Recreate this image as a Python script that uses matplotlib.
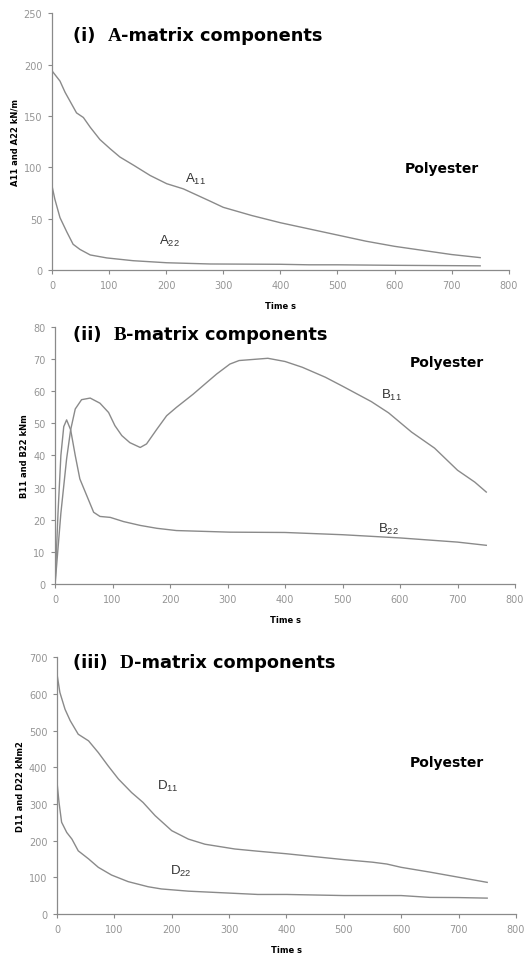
import matplotlib
matplotlib.use("Agg")
from matplotlib import pyplot as plt

# ---- data ----
t_a11 = [0, 14, 23, 43, 55, 67, 84, 102, 119, 143, 172, 201, 230, 277, 300, 350, 400, 450, 500, 550, 600, 650, 700, 750]
a11 = [194, 184, 173, 153, 148.5, 139, 127, 118, 110, 102, 92, 84, 79, 67, 61, 53, 46, 40, 34, 28, 23, 19, 15, 12]
t_a22 = [0, 5, 14, 26, 37, 49, 67, 96, 142, 201, 277, 400, 450, 500, 600, 750]
a22 = [82, 69, 51, 37, 25, 20, 14.6, 11.7, 9, 7, 5.8, 5.5, 5, 5, 4.5, 4]

t_b11 = [0, 10, 20, 27, 35, 46, 61, 78, 93, 104, 116, 130, 148, 159, 177, 194, 211, 240, 264, 281, 304, 320, 370,
         400, 430, 470, 500, 550, 580, 620, 660, 700, 730, 750]
b11 = [0, 22, 39, 48, 54.5, 57.4, 57.9, 56.3, 53.4, 49.3, 46.2, 44, 42.5, 43.6, 48.2, 52.4, 55, 59.1, 62.8, 65.4, 68.5,
       69.6, 70.3, 69.3, 67.5, 64.4, 61.6, 56.8, 53.3, 47.3, 42.3, 35.4, 31.7, 28.6]
t_b22 = [0, 5, 10, 15, 20, 27, 35, 43, 55, 67, 78, 96, 119, 148, 177, 211, 304, 400, 500, 600, 700, 750]
b22 = [0, 22, 40, 49, 51.1, 48, 40, 32.7, 27.5, 22.3, 21, 20.7, 19.4, 18.2, 17.3, 16.6, 16.1, 16, 15.3, 14.3, 13, 12]

t_d11 = [0, 5, 14, 23, 37, 55, 72, 89, 107, 130, 150, 171, 200, 229, 258, 310, 350, 400, 450, 500, 550, 575,
         600, 650, 700, 750]
d11 = [654, 604, 558, 527, 490, 472, 440, 404, 368, 331, 304, 268, 227, 204, 190, 177, 171, 164, 156, 148, 141, 136,
       127, 114, 100, 86]
t_d22 = [0, 3.5, 8, 17, 26, 37, 55, 72, 95, 124, 159, 182, 229, 310, 350, 400, 500, 600, 650, 700, 750]
d22 = [359, 304, 250, 222, 204, 172, 150, 127, 106, 88, 74, 68, 62, 56, 53, 53, 50, 50, 45, 44.5, 43]

x_ticks = [0, 100, 200, 300, 400, 500, 600, 700, 800]

panels = [
    dict(rect=[0.099, 0.716, 0.870, 0.269], ylim=250, yticks=[0, 50, 100, 150, 200, 250],
         ylabel="A11 and A22 kN/m", roman="(i)", letter="A",
         curves=[(t_a11, a11), (t_a22, a22)],
         labels=[("A", "11", 233, 89), ("A", "22", 188, 29)],
         title_pos=(37, 229), poly_pos=(683, 99)),
    dict(rect=[0.105, 0.387, 0.876, 0.269], ylim=80, yticks=[0, 10, 20, 30, 40, 50, 60, 70, 80],
         ylabel="B11 and B22 kNm", roman="(ii)", letter="B",
         curves=[(t_b11, b11), (t_b22, b22)],
         labels=[("B", "11", 567, 59), ("B", "22", 562, 17.4)],
         title_pos=(31, 78), poly_pos=(682, 69)),
    dict(rect=[0.1086, 0.041, 0.874, 0.269], ylim=700, yticks=[0, 100, 200, 300, 400, 500, 600, 700],
         ylabel="D11 and D22 kNm2", roman="(iii)", letter="D",
         curves=[(t_d11, d11), (t_d22, d22)],
         labels=[("D", "11", 174, 350), ("D", "22", 197, 118)],
         title_pos=(28, 686), poly_pos=(679, 414)),
]

grey = "#8a8a8a"
sans = "DejaVu Sans"
serif = "Liberation Serif"

fig = plt.figure(figsize=(5.25, 9.54), dpi=100)

for p in panels:
    ax = fig.add_axes(p["rect"])
    for tt, vv in p["curves"]:
        ax.plot(tt, vv, color=grey, lw=1.0)
    ax.set_xlim(0, 800)
    ax.set_ylim(0, p["ylim"])
    ax.set_xticks(x_ticks)
    ax.set_yticks(p["yticks"])
    for s in ["top", "right"]:
        ax.spines[s].set_visible(False)
    for s in ["left", "bottom"]:
        ax.spines[s].set_color(grey)
        ax.spines[s].set_linewidth(0.9)
    ax.tick_params(direction="out", length=3, width=0.8, color=grey, labelcolor="#959595", labelsize=7, pad=4)
    for lab in ax.get_xticklabels() + ax.get_yticklabels():
        lab.set_family(sans)
    ax.set_xlabel("Time s", fontsize=6, fontweight="bold", family=sans, labelpad=8)
    ax.set_ylabel(p["ylabel"], fontsize=6, fontweight="bold", family=sans, labelpad=3)

    # title in mixed fonts
    tx, ty = p["title_pos"]
    t1 = ax.text(tx, ty, p["roman"] + "  ", fontsize=12.8, fontweight="bold", family=sans, va="center")
    t2 = ax.annotate(p["letter"], xy=(1, 0), xycoords=t1, va="bottom", ha="left",
                     fontsize=13.8, fontweight="bold", family=serif)
    ax.annotate("-matrix components", xy=(1, 0), xycoords=t2, va="bottom", ha="left",
                fontsize=12.8, fontweight="bold", family=sans)

    px, py = p["poly_pos"]
    ax.text(px, py, "Polyester", fontsize=10, fontweight="bold", family=sans, ha="center", va="center")

    for letter, sub, lx, ly in p["labels"]:
        ax.text(lx, ly, r"%s$_{\mathregular{%s}}$" % (letter, sub), fontsize=9.5, color="#333333",
                family="Liberation Sans", va="center", ha="left")

fig.savefig("out.png", dpi=100)
